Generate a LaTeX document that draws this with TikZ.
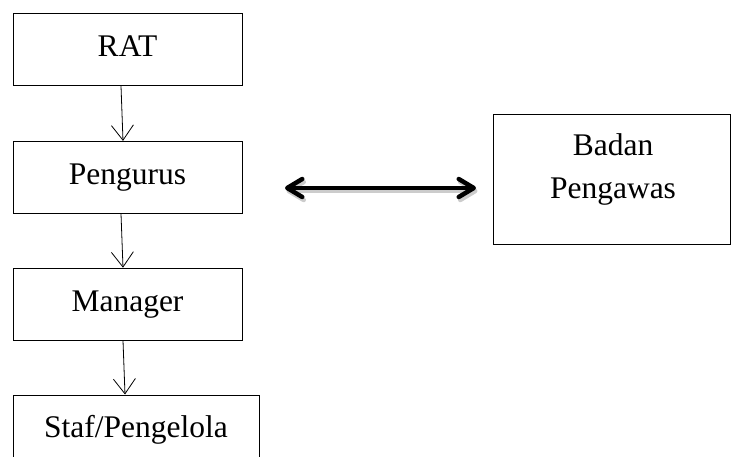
\documentclass[tikz,border=0pt]{standalone}
\usepackage{fontspec}
\setmainfont{Liberation Serif}
\usetikzlibrary{arrows.meta,positioning}

\tikzset{
  kasten/.style={draw, line width=0.8pt, minimum width=229pt, minimum height=72pt,
    inner sep=0pt, text height=22pt, text depth=8pt, font=\fontsize{31.5}{43}\selectfont},
  schrift/.style={inner sep=0pt, align=center, font=\fontsize{31.5}{43}\selectfont},
  pfeil/.style={line width=0.8pt, -{Straight Barb[length=15pt,width=22pt]}},
  doppelpfeil/.style={line width=4.5pt, line cap=round,
    {Straight Barb[round,length=15pt,width=18pt]}-{Straight Barb[round,length=15pt,width=18pt]}}
}

\begin{document}
\begin{tikzpicture}[x=1pt, y=-1pt]
		%Rand
		\useasboundingbox (0,0) rectangle (731,457);
		\clip (0,0) rectangle (731,457);

		%Kasten links
		\node[kasten] (rat) at (127.5,49.5) {RAT};
		\node[kasten, below=55pt of rat] (pengurus) {Pengurus};
		\node[kasten, below=54pt of pengurus] (manager) {Manager};
		\node[kasten, minimum width=246pt, below=54pt of manager.south west, anchor=north west] (staf) {Staf/Pengelola};

		%Kasten rechts
		\node[draw, line width=0.8pt, minimum width=237pt, minimum height=130pt] (pengawas) at (611.5,179) {};
		\node[schrift] (pengawastext) at ([xshift=1.5pt, yshift=10pt]pengawas.center) {Badan\\Pengawas};

		%Pfeile nach unten
		\draw[pfeil] ([xshift=-6.5pt]rat.south) -- ([xshift=-4.5pt]pengurus.north);
		\draw[pfeil] ([xshift=-6.5pt]pengurus.south) -- ([xshift=-4.5pt]manager.north);
		\draw[pfeil] ([xshift=-4.5pt]manager.south) -- ([xshift=-11pt]staf.north);

		%Doppelpfeil
		\coordinate (links) at (285,188);
		\coordinate (rechts) at (476,188);
		\draw[doppelpfeil, draw=black!20, transform canvas={shift={(1.5pt,-3pt)}}] (links) -- (rechts);
		\draw[doppelpfeil] (links) -- (rechts);
\end{tikzpicture}
\end{document}
